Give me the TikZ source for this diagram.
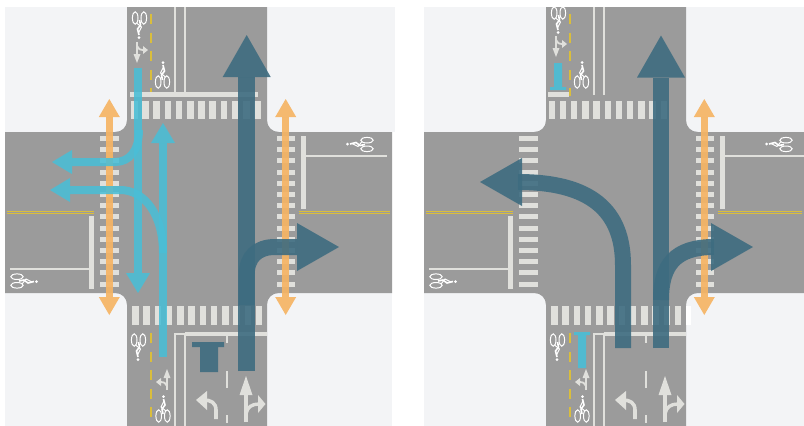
\documentclass[tikz,border=0pt]{standalone}
\usepackage{xcolor}
\usetikzlibrary{arrows.meta}
\definecolor{roadgray}{RGB}{155,155,155}
\definecolor{walkgray}{RGB}{243,244,246}
\definecolor{markwhite}{RGB}{224,224,220}
\definecolor{laneyellow}{RGB}{218,190,60}
\definecolor{flowteal}{RGB}{62,108,128}
\definecolor{flowcyan}{RGB}{74,190,214}
\definecolor{floworange}{RGB}{246,180,100}
\tikzset{
    thinmark/.style={draw=markwhite,line width=1.6},
    stopmark/.style={draw=markwhite,line width=5},
    lanedash/.style={draw=laneyellow,line width=2.4,dash pattern=on 10pt off 8.5pt},
    centreline/.style={draw=laneyellow,line width=0.7},
    tealflow/.style={draw=flowteal,line width=16.5,opacity=0.9,-{Triangle[length=42pt,width=48pt,line width=0pt]}},
    cyanflow/.style={draw=flowcyan,line width=8,opacity=0.88,-{Triangle[length=20pt,width=24pt,line width=0pt]}},
    orangeflow/.style={draw=floworange,line width=7,opacity=0.92,{Triangle[length=18pt,width=21pt,line width=0pt]}-{Triangle[length=18pt,width=21pt,line width=0pt]}},
    bikemark/.pic={
        \draw[white,line width=1] (-4.3,0) ellipse (2.8 and 6.2);
        \draw[white,line width=1] (4.3,0) ellipse (2.8 and 6.2);
        \fill[white] (0.5,-19.5) circle (1.5);
        \draw[white,line width=1.6] (0.5,-17) -- (2,-11) -- (-1,-7) -- (0,-2);
        \draw[white,line width=1] (1,-15) -- (-2,-9) -- (3,-5);
    },
    turnmark/.pic={
        \draw[markwhite,line width=1.8] (0,0) -- (0,-13);
        \draw[markwhite,line width=1.8] (0,-4) .. controls (-1,-7) and (-3,-8) .. (-7,-8);
        \fill[markwhite] (0,-21) -- (-3.5,-12) -- (3.5,-12) -- cycle;
        \fill[markwhite] (-11,-8) -- (-6,-12) -- (-6,-4) -- cycle;
    }
}
\newcommand{\roadbase}[1]{%
    % Sidewalk and carriageway
    \fill[walkgray] (5,7) rectangle (#1,426);
    \fill[roadgray] (127,7) -- (267,7) -- (267,120) .. controls (267,127) and (272,132) .. (279,132) -- (#1,132)
        -- (#1,293) -- (279,293) .. controls (272,293) and (267,298) .. (267,305) -- (267,426) -- (127,426) -- (127,305)
        .. controls (127,298) and (122,293) .. (115,293) -- (5,293) -- (5,132) -- (115,132)
        .. controls (122,132) and (127,127) .. (127,120) -- cycle;
    % Zebra bars
    \foreach \n in {0,...,13} {
        \fill[markwhite] (100,{136+\n*11.2}) rectangle (119,{141+\n*11.2});
        \fill[markwhite] (277,{136+\n*11.2}) rectangle (295,{141+\n*11.2});
    }
    \foreach \n in {0,...,11}
        \fill[markwhite] ({132+\n*11.25},306) rectangle ({138.5+\n*11.25},325);
    % Centre lines
    \foreach \y in {211.2,213} {
        \draw[centreline] (7,\y) -- (94,\y);
        \draw[centreline] (299,\y) -- ({#1-2},\y);
    }
    % Stop lines and lane edges
    \draw[stopmark] (303,136) -- (303,209);
    \draw[thinmark] (303,156) -- (387,156);
    \draw[stopmark] (91,216) -- (91,289);
    \draw[thinmark] (10,269) -- (91,269);
    \draw[stopmark,line width=4] (185,334) -- (267,334);
    \draw[thinmark] (175,426) -- (175,334) -- (185,334) -- (185,426);
    \draw[thinmark] (175,7) -- (175,95);
    \draw[thinmark] (185,7) -- (185,95);
    % Lane dashes
    \draw[lanedash] (151,14) -- (151,96);
    \draw[lanedash] (151,333) -- (151,426);
    \draw[thinmark,line width=2.6] (227,336) -- (227,343);
    \draw[thinmark,line width=2.6] (227,371) -- (227,388);
    \draw[thinmark,line width=2.6] (227,415) -- (227,423);
    % Bikes and small arrows
    \pic at (162.5,82) {bikemark};
    \pic at (163,416) {bikemark};
    \pic[rotate=180] at (138.5,340) {bikemark};
    \pic[rotate=90] at (367,144.5) {bikemark};
    \pic[rotate=-90] at (17,281) {bikemark};
    \pic at (167,390) {turnmark};
    % Lane arrows
    \draw[markwhite,line width=3.6] (216,419) -- (216,410) .. controls (216,403) and (211,400) .. (204,400);
    \fill[markwhite] (196,400) -- (207,391) -- (207,410) -- cycle;
    \draw[markwhite,line width=3.8] (246,422) -- (246,393);
    \fill[markwhite] (246,376) -- (239.5,395) -- (252.5,395) -- cycle;
    \draw[markwhite,line width=3.4] (246,414) .. controls (247,407) and (252,404) .. (259,404);
    \fill[markwhite] (265.5,404) -- (258,395) -- (258,413) -- cycle;
}
\begin{document}
\begin{tikzpicture}[x=1pt,y=-1pt]
    \useasboundingbox (0,0) rectangle (804,426);
    \fill[white] (0,0) rectangle (804,426);

    % Left crossing
    \roadbase{392}
    \fill[walkgray] (392,7) rectangle (395,132);
    \draw[stopmark] (130,94.7) -- (258,94.7);
    \foreach \n in {0,...,11}
        \fill[markwhite] ({131+\n*11.2},101) rectangle ({137.5+\n*11.2},119);
    \pic[rotate=180] at (139.5,18) {bikemark};
    \pic[rotate=180] at (137,42) {turnmark};
    % Left crossing flows
    \draw[orangeflow] (109.3,99) -- (109.3,315);
    \draw[orangeflow] (285.7,99) -- (285.7,315);
    \draw[cyanflow] (138,68) -- (138,293);
    \draw[cyanflow] (139,130) .. controls (139,150) and (130,162) .. (115,162) -- (52,162);
    \draw[cyanflow] (163,357) -- (163,123);
    \draw[cyanflow] (163,253) .. controls (163,215) and (145,190) .. (120,190) -- (50,190);
    \draw[tealflow] (246.7,371) -- (246.7,35);
    \draw[tealflow,line width=16] (246.7,305) -- (246.7,275) .. controls (246.7,257) and (257,247) .. (275,247) -- (339,247);
    \fill[flowteal,opacity=0.9] (192,342) -- (224,342) -- (224,347) -- (218,347) -- (218,372) -- (200,372) -- (200,347) -- (192,347) -- cycle;

    % Right crossing
    \begin{scope}[xshift=419]
        \roadbase{385}
        \fill[white] (267,306) rectangle (272,325);
        \draw[stopmark] (129,94.7) -- (150,94.7);
        \foreach \n in {0,...,10}
            \fill[markwhite] ({129.5+\n*11.2},101) rectangle ({136+\n*11.2},119);
        \begin{scope}
            \clip (120,7) rectangle (170,60);
            \pic[rotate=180] at (139.5,13) {bikemark};
        \end{scope}
        \pic[rotate=180] at (137,36) {turnmark};
        % Right crossing flows
        \draw[orangeflow] (285.3,99) -- (285.3,315);
        \draw[tealflow] (242,348) -- (242,35.5);
        \draw[tealflow,line width=16] (242,300) .. controls (242,265) and (256,247) .. (295,247) -- (334,247);
        \draw[tealflow,line width=16] (204,348) -- (204,265) .. controls (204,210) and (171,182) .. (99,182) -- (61,182);
        \fill[flowcyan,opacity=0.9] (135,63) -- (143,63) -- (143,87) -- (147,87) -- (147,90) -- (131,90) -- (131,87) -- (135,87) -- cycle;
        \fill[flowcyan,opacity=0.9] (155,332) -- (171,332) -- (171,335) -- (167,335) -- (167,368) -- (159,368) -- (159,335) -- (155,335) -- cycle;
    \end{scope}
\end{tikzpicture}
\end{document}
